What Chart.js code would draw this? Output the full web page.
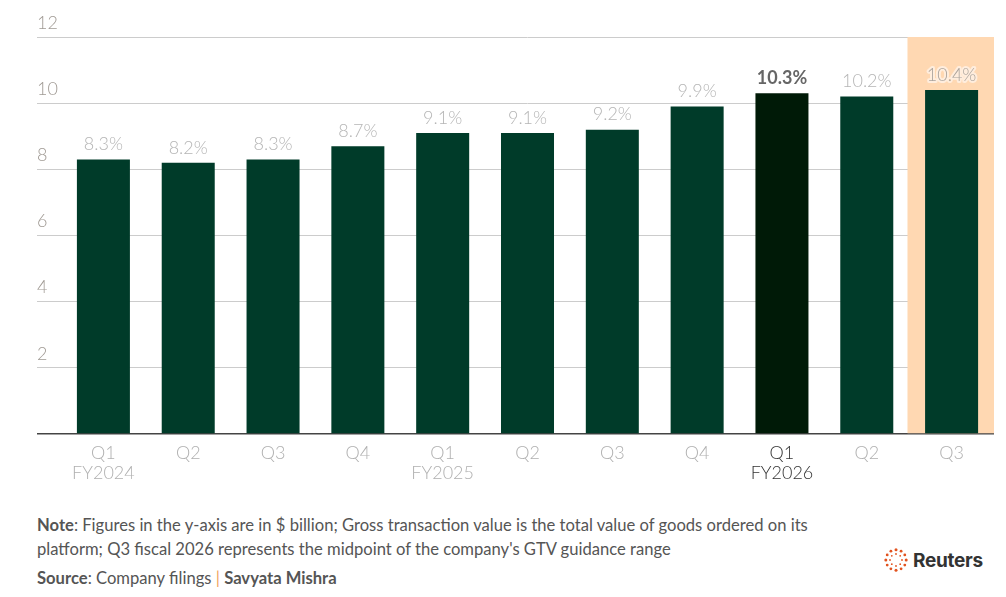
<!DOCTYPE html>
<html>
<head>
<meta charset="utf-8">
<script src="https://cdn.jsdelivr.net/npm/chart.js@4.4.1/dist/chart.umd.min.js"></script>
<style>
  html, body { margin: 0; padding: 0; background: #fff; }
  body { width: 1006px; height: 597px; position: relative; overflow: hidden; font-family: Lato, "Open Sans", sans-serif; }
  #wrap { position: absolute; left: 0; top: 0; width: 1006px; height: 500px; }
  .foot { position: absolute; left: 37px; color: #555; font-size: 16.6px; font-weight: 400; line-height: 24px; white-space: nowrap; }
  .foot b { font-weight: 700; color: #555; }
  #note { top: 513px; width: 820px; }
  #src { top: 566px; }
  .sep { color: #f0a35e; }
  #logo { position: absolute; left: 884px; top: 548px; display: flex; align-items: center; }
  #logo span { font-family: Inter, "Open Sans", sans-serif; font-weight: 700; font-size: 19px; color: #333; margin-left: 5px; letter-spacing: -0.3px; }
</style>
</head>
<body>
<div id="wrap"><canvas id="c" width="1006" height="500"></canvas></div>
<div class="foot" id="note"><b>Note</b>: Figures in the y-axis are in $ billion; Gross transaction value is the total value of goods ordered on its<br>platform; Q3 fiscal 2026 represents the midpoint of the company's GTV guidance range</div>
<div class="foot" id="src"><b>Source</b>: Company filings <span class="sep">|</span> <b>Savyata Mishra</b></div>
<div id="logo">
  <svg width="24" height="24" viewBox="0 0 24 24">
    <g fill="#e2531f">
      <circle cx="12" cy="1.8" r="1.5"/><circle cx="17.1" cy="3.2" r="1.4"/><circle cx="20.8" cy="6.9" r="1.4"/>
      <circle cx="22.2" cy="12" r="1.5"/><circle cx="20.8" cy="17.1" r="1.4"/><circle cx="17.1" cy="20.8" r="1.4"/>
      <circle cx="12" cy="22.2" r="1.5"/><circle cx="6.9" cy="20.8" r="1.4"/><circle cx="3.2" cy="17.1" r="1.4"/>
      <circle cx="1.8" cy="12" r="1.5"/><circle cx="3.2" cy="6.9" r="1.4"/><circle cx="6.9" cy="3.2" r="1.4"/>
      <circle cx="12" cy="6" r="0.9"/><circle cx="16.2" cy="7.8" r="0.9"/><circle cx="18" cy="12" r="0.9"/>
      <circle cx="16.2" cy="16.2" r="0.9"/><circle cx="12" cy="18" r="0.9"/><circle cx="7.8" cy="16.2" r="0.9"/>
      <circle cx="6" cy="12" r="0.9"/><circle cx="7.8" cy="7.8" r="0.9"/>
    </g>
  </svg>
  <span>Reuters</span>
</div>
<script>
const quarters = ['Q1', 'Q2', 'Q3', 'Q4', 'Q1', 'Q2', 'Q3', 'Q4', 'Q1', 'Q2', 'Q3'];
const fiscalYears = ['FY2024', '', '', '', 'FY2025', '', '', '', 'FY2026', '', ''];
const gtvValues = [8.3, 8.2, 8.3, 8.7, 9.1, 9.1, 9.2, 9.9, 10.3, 10.2, 10.4];
const valueLabels = ['8.3%', '8.2%', '8.3%', '8.7%', '9.1%', '9.1%', '9.2%', '9.9%', '10.3%', '10.2%', '10.4%'];
const yTicks = [0, 2, 4, 6, 8, 10, 12];
const highlightIndex = 8;   // latest reported quarter (bold)
const guidanceIndex = 10;   // guidance midpoint (shaded)

const labels = quarters.map((q, i) => fiscalYears[i] ? [q, fiscalYears[i]] : q);
const yMax = yTicks[yTicks.length - 1];
const shadeValues = gtvValues.map((v, i) => i === guidanceIndex ? yMax : null);

const FONT = 'Lato, "Open Sans", sans-serif';

const valueLabelPlugin = {
  id: 'valueLabels',
  afterDatasetsDraw(chart) {
    const ctx = chart.ctx;
    const meta = chart.getDatasetMeta(1);
    ctx.save();
    ctx.textAlign = 'center';
    ctx.textBaseline = 'bottom';
    meta.data.forEach((bar, i) => {
      const bold = i === highlightIndex;
      ctx.font = (bold ? '700 ' : '300 ') + '18px ' + FONT;
      const x = bar.x, y = bar.y - 6;
      if (i === guidanceIndex) {
        ctx.lineWidth = 4;
        ctx.strokeStyle = 'rgba(255,240,225,0.9)';
        ctx.lineJoin = 'round';
        ctx.strokeText(valueLabels[i], x, y);
        ctx.fillStyle = '#aaa39c';
      } else {
        ctx.fillStyle = bold ? '#666' : '#b5b5b5';
      }
      ctx.fillText(valueLabels[i], x, y);
    });
    ctx.restore();
  }
};

new Chart(document.getElementById('c'), {
  type: 'bar',
  data: {
    labels: labels,
    datasets: [
      {
        data: shadeValues,
        backgroundColor: '#ffd8b2',
        barPercentage: 1,
        categoryPercentage: 1.04,
        grouped: false,
        order: 2
      },
      {
        data: gtvValues,
        backgroundColor: gtvValues.map((v, i) => i === highlightIndex ? '#001a07' : '#003b29'),
        barPercentage: 0.625,
        categoryPercentage: 1,
        grouped: false,
        order: 1
      }
    ]
  },
  options: {
    responsive: false,
    animation: false,
    events: [],
    layout: { padding: { left: 37, right: 12, top: 37, bottom: 0 } },
    plugins: { legend: { display: false }, tooltip: { enabled: false }, title: { display: false } },
    scales: {
      x: {
        grid: { display: false, drawTicks: false },
        border: { display: false },
        afterFit(scale) { scale.height = 66; },
        ticks: {
          padding: 9,
          color: (c) => c.index === highlightIndex ? '#333' : '#b0b0b0',
          font: { family: FONT, size: 18, weight: 300, lineHeight: 1.1 },
          maxRotation: 0, autoSkip: false
        }
      },
      y: {
        min: 0, max: yMax,
        afterBuildTicks(scale) { scale.ticks = yTicks.map(v => ({ value: v })); },
        afterFit(scale) { scale.width = 24; },
        border: { display: false },
        grid: {
          color: (c) => c.tick && c.tick.value === 0 ? '#444' : '#cccccc',
          lineWidth: (c) => c.tick && c.tick.value === 0 ? 1.5 : 1,
          tickLength: 24,
          drawTicks: true
        },
        ticks: {
          crossAlign: 'far',
          padding: 0,
          labelOffset: -14,
          color: (c) => c.tick && c.tick.value === 0 ? 'rgba(0,0,0,0)' : '#a09a94',
          font: { family: FONT, size: 18, weight: 300 },
          callback: (v) => v === 0 ? '' : String(v)
        }
      }
    }
  },
  plugins: [valueLabelPlugin]
});
</script>
</body>
</html>
